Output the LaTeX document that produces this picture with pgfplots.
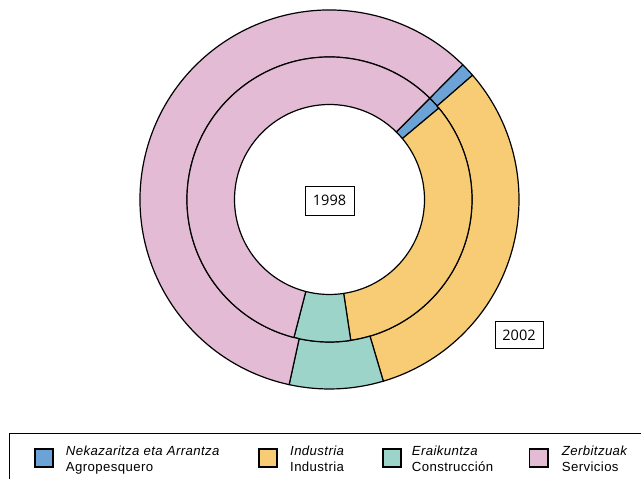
\documentclass[border=0pt]{standalone}
\usepackage{fontspec}
\setmainfont{Liberation Sans}
\newfontfamily\labfont{Open Sans}
\newfontfamily\legfont[LetterSpace=3]{Liberation Sans}
\usepackage{pgfplots}
\usepackage{pgfplotstable}
\pgfplotsset{compat=1.18}

\definecolor{col0}{HTML}{6CA3D6}
\definecolor{col1}{HTML}{F7CC75}
\definecolor{col2}{HTML}{9DD4C9}
\definecolor{col3}{HTML}{E3BBD4}

% share of each sector (%), 1998 inner ring, 2002 outer ring
\pgfplotstableread{
sector y1998 y2002
Agro   1.5   1.2
Ind    33.7  31.8
Con    6.4   8.0
Ser    58.4  59.0
}\sharetable

\newcommand\computering[2]{%
  \xdef\cur{45.3}%
  \pgfplotsforeachungrouped \i in {0,1,2,3}{%
    \pgfplotstablegetelem{\i}{#1}\of\sharetable
    \pgfmathsetmacro\nxt{\cur-3.6*\pgfplotsretval}%
    \expandafter\xdef\csname #2s\i\endcsname{\cur}%
    \expandafter\xdef\csname #2e\i\endcsname{\nxt}%
    \xdef\cur{\nxt}%
  }%
}
\computering{y1998}{I}
\computering{y2002}{O}

\newcommand\donutslice[5]{%
  \filldraw[fill=#5, draw=black, line width=1.2pt, line join=round]
    (axis cs:{#3*cos(#1)},{#3*sin(#1)}) -- (axis cs:{#4*cos(#1)},{#4*sin(#1)})
    arc[start angle=#1, end angle=#2, radius=#4 pt]
    -- (axis cs:{#3*cos(#2)},{#3*sin(#2)})
    arc[start angle=#2, end angle=#1, radius=#3 pt] -- cycle;}

\begin{document}
\begin{tikzpicture}
\begin{axis}[name=ax, hide axis, x=1pt, y=1pt, scale only axis,
  xmin=-329.5, xmax=311.5, ymin=-279.5, ymax=199.5, clip=false]
\pgfplotsinvokeforeach{0,1,2,3}{%
  \donutslice{\csname Os#1\endcsname}{\csname Oe#1\endcsname}{142.5}{189.5}{col#1}
  \donutslice{\csname Is#1\endcsname}{\csname Ie#1\endcsname}{95}{142.5}{col#1}
}
\node[draw, line width=0.9pt, minimum width=49pt, minimum height=29pt, inner sep=0pt,
  font=\labfont\fontsize{14.5}{16}\selectfont] at (axis cs:0,-1) {1998};
\node[draw, line width=0.9pt, minimum width=48pt, minimum height=27pt, inner sep=0pt,
  font=\labfont\fontsize{14.5}{16}\selectfont] at (axis cs:189.5,-135.8) {2002};
% legend
\draw[line width=1pt] (axis cs:-320.5,-300) -- (axis cs:-320.5,-234.5) -- (axis cs:330,-234.5);
\draw[line width=1.2pt, fill=col0] (axis cs:-294.5,-249.5) rectangle (axis cs:-276.5,-267.5);
\draw[line width=1.2pt, fill=col1] (axis cs:-70.5,-249.5) rectangle (axis cs:-52.5,-267.5);
\draw[line width=1.2pt, fill=col2] (axis cs:53.5,-249.5) rectangle (axis cs:71.5,-267.5);
\draw[line width=1.2pt, fill=col3] (axis cs:200,-249.5) rectangle (axis cs:218.5,-267.5);
\begin{scope}[every node/.style={anchor=base west, inner sep=0pt, font=\legfont\fontsize{13.2}{16}\selectfont}]
\node at (axis cs:-263.8,-255.8) {\itshape Nekazaritza eta Arrantza};
\node at (axis cs:-263.8,-271.8) {Agropesquero};
\node at (axis cs:-39.5,-255.8) {\itshape Industria};
\node at (axis cs:-39.5,-271.8) {Industria};
\node at (axis cs:82.2,-255.8) {\itshape Eraikuntza};
\node at (axis cs:82.2,-271.8) {Construcción};
\node at (axis cs:232.2,-255.8) {\itshape Zerbitzuak};
\node at (axis cs:232.2,-271.8) {Servicios};
\end{scope}
\end{axis}
\pgfresetboundingbox
\path (ax.south west) rectangle (ax.north east);
\end{tikzpicture}
\end{document}
